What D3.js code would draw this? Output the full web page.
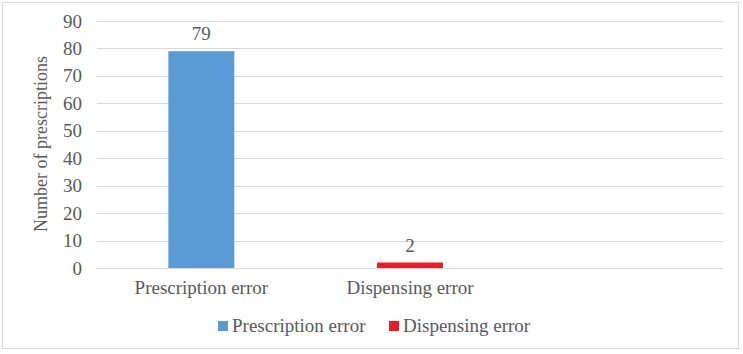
<!DOCTYPE html>
<html>
<head>
<meta charset="utf-8">
<script src="https://cdn.jsdelivr.net/npm/d3@7"></script>
<style>
  body { margin: 0; background: #fff; }
  text { font-family: "Liberation Serif", "Times New Roman", serif; fill: #595959; }
</style>
</head>
<body>
<div id="chart"></div>
<script>
// Data //////////////////////////////////////////////////////////////////
const categories = ['Prescription error', 'Dispensing error', ''];
const seriesNames = ['Prescription error', 'Dispensing error'];
const seriesValues = [79, 2];
const seriesColors = ['#5b9bd5', '#ed1c24'];
const yTicks = [0, 10, 20, 30, 40, 50, 60, 70, 80, 90];

// Chart /////////////////////////////////////////////////////////////////
const W = 743, H = 354;
const margin = {top: 21, right: 20, bottom: 86, left: 97};
const width = 723 - margin.left;
const height = 268 - margin.top;
const fontSize = 19;

const svg = d3.select('#chart').append('svg')
  .attr('width', W)
  .attr('height', H);

// outer border
svg.append('rect')
  .attr('x', 2.5).attr('y', 2.5)
  .attr('width', 736).attr('height', 346)
  .attr('fill', '#fff')
  .attr('stroke', '#d9d9d9');

const g = svg.append('g')
  .attr('transform', `translate(${margin.left},${margin.top})`);

const x = d3.scaleBand()
  .domain(categories)
  .range([0, width])
  .paddingInner(0.684)
  .paddingOuter(0.342);

const y = d3.scaleLinear()
  .domain([0, 90])
  .range([height, 0]);

// gridlines
g.selectAll('.grid')
  .data(yTicks)
  .enter().append('line')
  .attr('class', 'grid')
  .attr('x1', 0).attr('x2', width)
  .attr('y1', d => Math.round(y(d)) + 0.5)
  .attr('y2', d => Math.round(y(d)) + 0.5)
  .attr('stroke', '#d9d9d9')
  .attr('stroke-width', 1);

// y axis labels
const yAxis = g.append('g')
  .call(d3.axisLeft(y).tickValues(yTicks).tickSize(0).tickPadding(15));
yAxis.select('.domain').remove();
yAxis.selectAll('text')
  .attr('font-size', fontSize)
  .attr('fill', '#595959')
  .attr('font-family', '"Liberation Serif", serif');

// x axis labels
const xAxis = g.append('g')
  .attr('transform', `translate(0,${height})`)
  .call(d3.axisBottom(x).tickSize(0).tickPadding(13));
xAxis.select('.domain').remove();
xAxis.selectAll('text')
  .attr('font-size', fontSize)
  .attr('fill', '#595959')
  .attr('font-family', '"Liberation Serif", serif');

// bars
g.selectAll('.bar')
  .data(seriesValues)
  .enter().append('rect')
  .attr('class', 'bar')
  .attr('x', (d, i) => x(categories[i]))
  .attr('width', x.bandwidth())
  .attr('y', d => y(d))
  .attr('height', d => height - y(d))
  .attr('fill', (d, i) => seriesColors[i]);

// value labels
g.selectAll('.value')
  .data(seriesValues)
  .enter().append('text')
  .attr('class', 'value')
  .attr('x', (d, i) => x(categories[i]) + x.bandwidth() / 2)
  .attr('y', d => y(d) - 11)
  .attr('text-anchor', 'middle')
  .attr('font-size', fontSize)
  .text(d => d);

// y axis title
svg.append('text')
  .attr('transform', 'translate(47,144) rotate(-90)')
  .attr('text-anchor', 'middle')
  .attr('font-size', 18)
  .text('Number of prescriptions');

// legend
const legendX = [218, 389];
const legend = svg.selectAll('.legend')
  .data(seriesNames)
  .enter().append('g')
  .attr('class', 'legend')
  .attr('transform', (d, i) => `translate(${legendX[i]},321)`);
legend.append('rect')
  .attr('width', 10).attr('height', 10)
  .attr('fill', (d, i) => seriesColors[i]);
legend.append('text')
  .attr('x', 14).attr('y', 10.5)
  .attr('font-size', fontSize)
  .text(d => d);
</script>
</body>
</html>
